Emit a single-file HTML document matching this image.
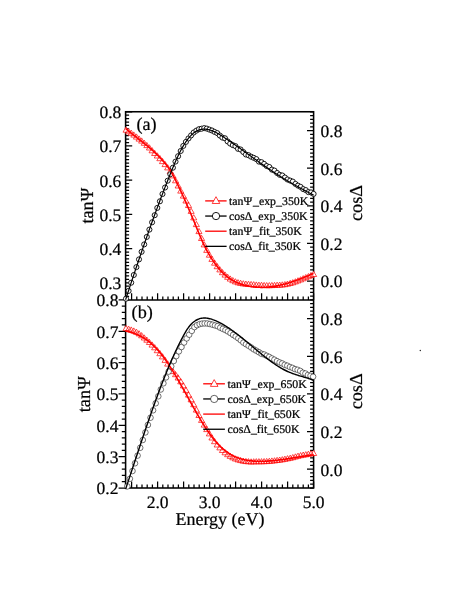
<!DOCTYPE html>
<html><head><meta charset="utf-8"><title>chart</title>
<style>html,body{margin:0;padding:0;background:#fff;}text{font-family:"Liberation Serif",serif;text-rendering:geometricPrecision;stroke:#000;stroke-width:0.22px;}body{width:457px;height:591px;position:relative;overflow:hidden;font-family:"Liberation Serif",serif;}</style></head>
<body>
<svg width="457" height="591" viewBox="0 0 457 591" style="position:absolute;left:0;top:0;will-change:transform">
<rect width="457" height="591" fill="#fff"/>
<rect x="125.6" y="111.75" width="188.00" height="376.25" fill="none" stroke="#000" stroke-width="1.55"/>
<line x1="125.60" y1="299.90" x2="313.60" y2="299.90" stroke="#000" stroke-width="1.55"/>
<path d="M126.40 299.90L126.40 296.40M131.60 299.90L131.60 293.30M136.80 299.90L136.80 296.40M142.00 299.90L142.00 296.40M147.20 299.90L147.20 296.40M152.40 299.90L152.40 296.40M157.60 299.90L157.60 293.30M162.80 299.90L162.80 296.40M168.00 299.90L168.00 296.40M173.20 299.90L173.20 296.40M178.40 299.90L178.40 296.40M183.60 299.90L183.60 293.30M188.80 299.90L188.80 296.40M194.00 299.90L194.00 296.40M199.20 299.90L199.20 296.40M204.40 299.90L204.40 296.40M209.60 299.90L209.60 293.30M214.80 299.90L214.80 296.40M220.00 299.90L220.00 296.40M225.20 299.90L225.20 296.40M230.40 299.90L230.40 296.40M235.60 299.90L235.60 293.30M240.80 299.90L240.80 296.40M246.00 299.90L246.00 296.40M251.20 299.90L251.20 296.40M256.40 299.90L256.40 296.40M261.60 299.90L261.60 293.30M266.80 299.90L266.80 296.40M272.00 299.90L272.00 296.40M277.20 299.90L277.20 296.40M282.40 299.90L282.40 296.40M287.60 299.90L287.60 293.30M292.80 299.90L292.80 296.40M298.00 299.90L298.00 296.40M303.20 299.90L303.20 296.40M308.40 299.90L308.40 296.40M313.60 299.90L313.60 293.30M126.40 488.00L126.40 484.50M131.60 488.00L131.60 481.40M136.80 488.00L136.80 484.50M142.00 488.00L142.00 484.50M147.20 488.00L147.20 484.50M152.40 488.00L152.40 484.50M157.60 488.00L157.60 481.40M162.80 488.00L162.80 484.50M168.00 488.00L168.00 484.50M173.20 488.00L173.20 484.50M178.40 488.00L178.40 484.50M183.60 488.00L183.60 481.40M188.80 488.00L188.80 484.50M194.00 488.00L194.00 484.50M199.20 488.00L199.20 484.50M204.40 488.00L204.40 484.50M209.60 488.00L209.60 481.40M214.80 488.00L214.80 484.50M220.00 488.00L220.00 484.50M225.20 488.00L225.20 484.50M230.40 488.00L230.40 484.50M235.60 488.00L235.60 481.40M240.80 488.00L240.80 484.50M246.00 488.00L246.00 484.50M251.20 488.00L251.20 484.50M256.40 488.00L256.40 484.50M261.60 488.00L261.60 481.40M266.80 488.00L266.80 484.50M272.00 488.00L272.00 484.50M277.20 488.00L277.20 484.50M282.40 488.00L282.40 484.50M287.60 488.00L287.60 481.40M292.80 488.00L292.80 484.50M298.00 488.00L298.00 484.50M303.20 488.00L303.20 484.50M308.40 488.00L308.40 484.50M313.60 488.00L313.60 481.40M125.60 299.90L129.10 299.90M125.60 296.48L129.10 296.48M125.60 293.06L129.10 293.06M125.60 289.64L129.10 289.64M125.60 286.22L129.10 286.22M125.60 282.80L132.20 282.80M125.60 279.37L129.10 279.37M125.60 275.95L129.10 275.95M125.60 272.53L129.10 272.53M125.60 269.11L129.10 269.11M125.60 265.69L129.10 265.69M125.60 262.27L129.10 262.27M125.60 258.85L129.10 258.85M125.60 255.43L129.10 255.43M125.60 252.01L129.10 252.01M125.60 248.59L132.20 248.59M125.60 245.17L129.10 245.17M125.60 241.74L129.10 241.74M125.60 238.32L129.10 238.32M125.60 234.90L129.10 234.90M125.60 231.48L129.10 231.48M125.60 228.06L129.10 228.06M125.60 224.64L129.10 224.64M125.60 221.22L129.10 221.22M125.60 217.80L129.10 217.80M125.60 214.38L132.20 214.38M125.60 210.96L129.10 210.96M125.60 207.54L129.10 207.54M125.60 204.11L129.10 204.11M125.60 200.69L129.10 200.69M125.60 197.27L129.10 197.27M125.60 193.85L129.10 193.85M125.60 190.43L129.10 190.43M125.60 187.01L129.10 187.01M125.60 183.59L129.10 183.59M125.60 180.17L132.20 180.17M125.60 176.75L129.10 176.75M125.60 173.33L129.10 173.33M125.60 169.91L129.10 169.91M125.60 166.48L129.10 166.48M125.60 163.06L129.10 163.06M125.60 159.64L129.10 159.64M125.60 156.22L129.10 156.22M125.60 152.80L129.10 152.80M125.60 149.38L129.10 149.38M125.60 145.96L132.20 145.96M125.60 142.54L129.10 142.54M125.60 139.12L129.10 139.12M125.60 135.70L129.10 135.70M125.60 132.28L129.10 132.28M125.60 128.85L129.10 128.85M125.60 125.43L129.10 125.43M125.60 122.01L129.10 122.01M125.60 118.59L129.10 118.59M125.60 115.17L129.10 115.17M125.60 111.75L132.20 111.75M125.60 488.00L118.60 488.00M125.60 481.73L121.80 481.73M125.60 475.46L121.80 475.46M125.60 469.19L121.80 469.19M125.60 462.92L121.80 462.92M125.60 456.65L118.60 456.65M125.60 450.38L121.80 450.38M125.60 444.11L121.80 444.11M125.60 437.84L121.80 437.84M125.60 431.57L121.80 431.57M125.60 425.30L118.60 425.30M125.60 419.03L121.80 419.03M125.60 412.76L121.80 412.76M125.60 406.49L121.80 406.49M125.60 400.22L121.80 400.22M125.60 393.95L118.60 393.95M125.60 387.68L121.80 387.68M125.60 381.41L121.80 381.41M125.60 375.14L121.80 375.14M125.60 368.87L121.80 368.87M125.60 362.60L118.60 362.60M125.60 356.33L121.80 356.33M125.60 350.06L121.80 350.06M125.60 343.79L121.80 343.79M125.60 337.52L121.80 337.52M125.60 331.25L118.60 331.25M125.60 324.98L121.80 324.98M125.60 318.71L121.80 318.71M125.60 312.44L121.80 312.44M125.60 306.17L121.80 306.17M125.60 299.90L118.60 299.90M313.60 299.90L310.10 299.90M313.60 296.14L310.10 296.14M313.60 292.37L310.10 292.37M313.60 288.61L310.10 288.61M313.60 284.85L310.10 284.85M313.60 281.08L307.00 281.08M313.60 277.32L310.10 277.32M313.60 273.56L310.10 273.56M313.60 269.80L310.10 269.80M313.60 266.03L310.10 266.03M313.60 262.27L310.10 262.27M313.60 258.51L310.10 258.51M313.60 254.74L310.10 254.74M313.60 250.98L310.10 250.98M313.60 247.22L310.10 247.22M313.60 243.45L307.00 243.45M313.60 239.69L310.10 239.69M313.60 235.93L310.10 235.93M313.60 232.17L310.10 232.17M313.60 228.40L310.10 228.40M313.60 224.64L310.10 224.64M313.60 220.88L310.10 220.88M313.60 217.11L310.10 217.11M313.60 213.35L310.10 213.35M313.60 209.59L310.10 209.59M313.60 205.82L307.00 205.82M313.60 202.06L310.10 202.06M313.60 198.30L310.10 198.30M313.60 194.54L310.10 194.54M313.60 190.77L310.10 190.77M313.60 187.01L310.10 187.01M313.60 183.25L310.10 183.25M313.60 179.48L310.10 179.48M313.60 175.72L310.10 175.72M313.60 171.96L310.10 171.96M313.60 168.19L307.00 168.19M313.60 164.43L310.10 164.43M313.60 160.67L310.10 160.67M313.60 156.91L310.10 156.91M313.60 153.14L310.10 153.14M313.60 149.38L310.10 149.38M313.60 145.62L310.10 145.62M313.60 141.85L310.10 141.85M313.60 138.09L310.10 138.09M313.60 134.33L310.10 134.33M313.60 130.56L307.00 130.56M313.60 126.80L310.10 126.80M313.60 123.04L310.10 123.04M313.60 119.28L310.10 119.28M313.60 115.51L310.10 115.51M313.60 111.75L310.10 111.75M313.60 488.00L310.10 488.00M313.60 484.24L310.10 484.24M313.60 480.48L310.10 480.48M313.60 476.71L310.10 476.71M313.60 472.95L310.10 472.95M313.60 469.19L307.00 469.19M313.60 465.43L310.10 465.43M313.60 461.67L310.10 461.67M313.60 457.90L310.10 457.90M313.60 454.14L310.10 454.14M313.60 450.38L310.10 450.38M313.60 446.62L310.10 446.62M313.60 442.86L310.10 442.86M313.60 439.09L310.10 439.09M313.60 435.33L310.10 435.33M313.60 431.57L307.00 431.57M313.60 427.81L310.10 427.81M313.60 424.05L310.10 424.05M313.60 420.28L310.10 420.28M313.60 416.52L310.10 416.52M313.60 412.76L310.10 412.76M313.60 409.00L310.10 409.00M313.60 405.24L310.10 405.24M313.60 401.47L310.10 401.47M313.60 397.71L310.10 397.71M313.60 393.95L307.00 393.95M313.60 390.19L310.10 390.19M313.60 386.43L310.10 386.43M313.60 382.66L310.10 382.66M313.60 378.90L310.10 378.90M313.60 375.14L310.10 375.14M313.60 371.38L310.10 371.38M313.60 367.62L310.10 367.62M313.60 363.85L310.10 363.85M313.60 360.09L310.10 360.09M313.60 356.33L307.00 356.33M313.60 352.57L310.10 352.57M313.60 348.81L310.10 348.81M313.60 345.04L310.10 345.04M313.60 341.28L310.10 341.28M313.60 337.52L310.10 337.52M313.60 333.76L310.10 333.76M313.60 330.00L310.10 330.00M313.60 326.23L310.10 326.23M313.60 322.47L310.10 322.47M313.60 318.71L307.00 318.71M313.60 314.95L310.10 314.95M313.60 311.19L310.10 311.19M313.60 307.42L310.10 307.42M313.60 303.66L310.10 303.66M313.60 299.90L310.10 299.90" stroke="#000" stroke-width="1.25" fill="none"/>
<path d="M126.0 127.0L129.1 132.2L123.0 132.2ZM128.6 128.6L131.7 133.8L125.6 133.8ZM131.2 130.1L134.3 135.3L128.2 135.3ZM133.8 131.9L136.9 137.1L130.8 137.1ZM136.4 133.9L139.5 139.1L133.4 139.1ZM139.0 135.9L142.1 141.1L136.0 141.1ZM141.6 137.9L144.7 143.1L138.6 143.1ZM144.2 140.1L147.3 145.3L141.2 145.3ZM146.8 142.4L149.9 147.6L143.8 147.6ZM149.4 144.8L152.5 150.0L146.4 150.0ZM152.1 147.6L155.1 152.8L149.0 152.8ZM154.7 150.3L157.7 155.5L151.6 155.5ZM157.3 152.8L160.3 158.0L154.2 158.0ZM159.9 155.5L162.9 160.7L156.8 160.7ZM162.5 158.4L165.5 163.6L159.4 163.6ZM165.1 161.4L168.1 166.6L162.0 166.6ZM167.7 164.7L170.7 169.9L164.6 169.9ZM170.3 168.3L173.3 173.5L167.2 173.5ZM172.9 172.7L176.0 177.9L169.8 177.9ZM175.5 177.6L178.6 182.8L172.5 182.8ZM178.1 182.8L181.2 188.0L175.1 188.0ZM180.7 187.9L183.8 193.1L177.7 193.1ZM183.3 192.9L186.4 198.1L180.3 198.1ZM185.9 197.8L189.0 203.0L182.9 203.0ZM188.5 202.3L191.6 207.5L185.5 207.5ZM191.1 208.2L194.2 213.4L188.1 213.4ZM193.7 214.7L196.8 219.9L190.7 219.9ZM196.4 221.4L199.4 226.6L193.3 226.6ZM199.0 228.4L202.0 233.6L195.9 233.6ZM201.6 235.3L204.6 240.5L198.5 240.5ZM204.2 241.7L207.2 246.9L201.1 246.9ZM206.8 247.2L209.8 252.4L203.7 252.4ZM209.4 252.0L212.4 257.2L206.3 257.2ZM212.0 256.2L215.0 261.4L208.9 261.4ZM214.6 260.0L217.6 265.2L211.5 265.2ZM217.2 263.5L220.2 268.7L214.1 268.7ZM219.8 266.7L222.9 271.9L216.8 271.9ZM222.4 269.5L225.5 274.7L219.4 274.7ZM225.0 271.9L228.1 277.1L222.0 277.1ZM227.6 274.1L230.7 279.3L224.6 279.3ZM230.2 275.9L233.3 281.1L227.2 281.1ZM232.8 277.5L235.9 282.7L229.8 282.7ZM235.4 278.7L238.5 283.9L232.4 283.9ZM238.0 279.6L241.1 284.8L235.0 284.8ZM240.6 280.2L243.7 285.4L237.6 285.4ZM243.3 280.7L246.3 285.9L240.2 285.9ZM245.9 281.0L248.9 286.2L242.8 286.2ZM248.5 281.2L251.5 286.4L245.4 286.4ZM251.1 281.4L254.1 286.6L248.0 286.6ZM253.7 281.6L256.7 286.8L250.6 286.8ZM256.3 281.9L259.3 287.1L253.2 287.1ZM258.9 282.1L261.9 287.3L255.8 287.3ZM261.5 282.2L264.5 287.4L258.4 287.4ZM264.1 282.4L267.1 287.6L261.0 287.6ZM266.7 282.5L269.8 287.7L263.7 287.7ZM269.3 282.5L272.4 287.7L266.3 287.7ZM271.9 282.4L275.0 287.6L268.9 287.6ZM274.5 282.3L277.6 287.5L271.5 287.5ZM277.1 282.1L280.2 287.3L274.1 287.3ZM279.7 282.0L282.8 287.2L276.7 287.2ZM282.3 281.8L285.4 287.0L279.3 287.0ZM284.9 281.5L288.0 286.7L281.9 286.7ZM287.5 281.0L290.6 286.2L284.5 286.2ZM290.2 280.3L293.2 285.5L287.1 285.5ZM292.8 279.6L295.8 284.8L289.7 284.8ZM295.4 278.7L298.4 283.9L292.3 283.9ZM298.0 277.7L301.0 282.9L294.9 282.9ZM300.6 276.7L303.6 281.9L297.5 281.9ZM303.2 275.6L306.2 280.8L300.1 280.8ZM305.8 274.5L308.8 279.7L302.7 279.7ZM308.4 273.5L311.4 278.7L305.3 278.7ZM311.0 272.4L314.0 277.6L307.9 277.6ZM313.6 271.3L316.7 276.5L310.6 276.5Z" stroke="#f00" stroke-width="0.7" fill="#fff" stroke-linejoin="miter"/>
<circle cx="126.0" cy="298.7" r="2.55" stroke="#000" stroke-width="0.9" fill="#fff"/>
<circle cx="128.6" cy="290.9" r="2.55" stroke="#000" stroke-width="0.9" fill="#fff"/>
<circle cx="131.2" cy="282.7" r="2.55" stroke="#000" stroke-width="0.9" fill="#fff"/>
<circle cx="133.8" cy="275.0" r="2.55" stroke="#000" stroke-width="0.9" fill="#fff"/>
<circle cx="136.4" cy="267.1" r="2.55" stroke="#000" stroke-width="0.9" fill="#fff"/>
<circle cx="139.0" cy="259.4" r="2.55" stroke="#000" stroke-width="0.9" fill="#fff"/>
<circle cx="141.6" cy="251.8" r="2.55" stroke="#000" stroke-width="0.9" fill="#fff"/>
<circle cx="144.2" cy="244.4" r="2.55" stroke="#000" stroke-width="0.9" fill="#fff"/>
<circle cx="146.8" cy="236.9" r="2.55" stroke="#000" stroke-width="0.9" fill="#fff"/>
<circle cx="149.4" cy="229.6" r="2.55" stroke="#000" stroke-width="0.9" fill="#fff"/>
<circle cx="152.1" cy="222.3" r="2.55" stroke="#000" stroke-width="0.9" fill="#fff"/>
<circle cx="154.7" cy="215.2" r="2.55" stroke="#000" stroke-width="0.9" fill="#fff"/>
<circle cx="157.3" cy="207.9" r="2.55" stroke="#000" stroke-width="0.9" fill="#fff"/>
<circle cx="159.9" cy="201.3" r="2.55" stroke="#000" stroke-width="0.9" fill="#fff"/>
<circle cx="162.5" cy="194.0" r="2.55" stroke="#000" stroke-width="0.9" fill="#fff"/>
<circle cx="165.1" cy="187.5" r="2.55" stroke="#000" stroke-width="0.9" fill="#fff"/>
<circle cx="167.7" cy="180.7" r="2.55" stroke="#000" stroke-width="0.9" fill="#fff"/>
<circle cx="170.3" cy="174.2" r="2.55" stroke="#000" stroke-width="0.9" fill="#fff"/>
<circle cx="172.9" cy="167.7" r="2.55" stroke="#000" stroke-width="0.9" fill="#fff"/>
<circle cx="175.5" cy="161.6" r="2.55" stroke="#000" stroke-width="0.9" fill="#fff"/>
<circle cx="178.1" cy="156.2" r="2.55" stroke="#000" stroke-width="0.9" fill="#fff"/>
<circle cx="180.7" cy="151.0" r="2.55" stroke="#000" stroke-width="0.9" fill="#fff"/>
<circle cx="183.3" cy="145.9" r="2.55" stroke="#000" stroke-width="0.9" fill="#fff"/>
<circle cx="185.9" cy="141.9" r="2.55" stroke="#000" stroke-width="0.9" fill="#fff"/>
<circle cx="188.5" cy="138.4" r="2.55" stroke="#000" stroke-width="0.9" fill="#fff"/>
<circle cx="191.1" cy="135.4" r="2.55" stroke="#000" stroke-width="0.9" fill="#fff"/>
<circle cx="193.7" cy="132.5" r="2.55" stroke="#000" stroke-width="0.9" fill="#fff"/>
<circle cx="196.4" cy="130.6" r="2.55" stroke="#000" stroke-width="0.9" fill="#fff"/>
<circle cx="199.0" cy="129.2" r="2.55" stroke="#000" stroke-width="0.9" fill="#fff"/>
<circle cx="201.6" cy="128.7" r="2.55" stroke="#000" stroke-width="0.9" fill="#fff"/>
<circle cx="204.2" cy="128.1" r="2.55" stroke="#000" stroke-width="0.9" fill="#fff"/>
<circle cx="206.8" cy="128.6" r="2.55" stroke="#000" stroke-width="0.9" fill="#fff"/>
<circle cx="209.4" cy="129.6" r="2.55" stroke="#000" stroke-width="0.9" fill="#fff"/>
<circle cx="212.0" cy="130.5" r="2.55" stroke="#000" stroke-width="0.9" fill="#fff"/>
<circle cx="214.6" cy="131.9" r="2.55" stroke="#000" stroke-width="0.9" fill="#fff"/>
<circle cx="217.2" cy="133.1" r="2.55" stroke="#000" stroke-width="0.9" fill="#fff"/>
<circle cx="219.8" cy="135.5" r="2.55" stroke="#000" stroke-width="0.9" fill="#fff"/>
<circle cx="222.4" cy="137.6" r="2.55" stroke="#000" stroke-width="0.9" fill="#fff"/>
<circle cx="225.0" cy="138.3" r="2.55" stroke="#000" stroke-width="0.9" fill="#fff"/>
<circle cx="227.6" cy="141.4" r="2.55" stroke="#000" stroke-width="0.9" fill="#fff"/>
<circle cx="230.2" cy="143.6" r="2.55" stroke="#000" stroke-width="0.9" fill="#fff"/>
<circle cx="232.8" cy="145.1" r="2.55" stroke="#000" stroke-width="0.9" fill="#fff"/>
<circle cx="235.4" cy="146.1" r="2.55" stroke="#000" stroke-width="0.9" fill="#fff"/>
<circle cx="238.0" cy="148.8" r="2.55" stroke="#000" stroke-width="0.9" fill="#fff"/>
<circle cx="240.6" cy="149.5" r="2.55" stroke="#000" stroke-width="0.9" fill="#fff"/>
<circle cx="243.3" cy="152.0" r="2.55" stroke="#000" stroke-width="0.9" fill="#fff"/>
<circle cx="245.9" cy="154.5" r="2.55" stroke="#000" stroke-width="0.9" fill="#fff"/>
<circle cx="248.5" cy="155.2" r="2.55" stroke="#000" stroke-width="0.9" fill="#fff"/>
<circle cx="251.1" cy="156.7" r="2.55" stroke="#000" stroke-width="0.9" fill="#fff"/>
<circle cx="253.7" cy="157.8" r="2.55" stroke="#000" stroke-width="0.9" fill="#fff"/>
<circle cx="256.3" cy="159.1" r="2.55" stroke="#000" stroke-width="0.9" fill="#fff"/>
<circle cx="258.9" cy="161.6" r="2.55" stroke="#000" stroke-width="0.9" fill="#fff"/>
<circle cx="261.5" cy="162.2" r="2.55" stroke="#000" stroke-width="0.9" fill="#fff"/>
<circle cx="264.1" cy="163.9" r="2.55" stroke="#000" stroke-width="0.9" fill="#fff"/>
<circle cx="266.7" cy="166.0" r="2.55" stroke="#000" stroke-width="0.9" fill="#fff"/>
<circle cx="269.3" cy="167.0" r="2.55" stroke="#000" stroke-width="0.9" fill="#fff"/>
<circle cx="271.9" cy="169.6" r="2.55" stroke="#000" stroke-width="0.9" fill="#fff"/>
<circle cx="274.5" cy="170.6" r="2.55" stroke="#000" stroke-width="0.9" fill="#fff"/>
<circle cx="277.1" cy="173.0" r="2.55" stroke="#000" stroke-width="0.9" fill="#fff"/>
<circle cx="279.7" cy="174.8" r="2.55" stroke="#000" stroke-width="0.9" fill="#fff"/>
<circle cx="282.3" cy="175.5" r="2.55" stroke="#000" stroke-width="0.9" fill="#fff"/>
<circle cx="284.9" cy="177.5" r="2.55" stroke="#000" stroke-width="0.9" fill="#fff"/>
<circle cx="287.5" cy="179.5" r="2.55" stroke="#000" stroke-width="0.9" fill="#fff"/>
<circle cx="290.2" cy="180.6" r="2.55" stroke="#000" stroke-width="0.9" fill="#fff"/>
<circle cx="292.8" cy="181.6" r="2.55" stroke="#000" stroke-width="0.9" fill="#fff"/>
<circle cx="295.4" cy="183.9" r="2.55" stroke="#000" stroke-width="0.9" fill="#fff"/>
<circle cx="298.0" cy="185.6" r="2.55" stroke="#000" stroke-width="0.9" fill="#fff"/>
<circle cx="300.6" cy="186.9" r="2.55" stroke="#000" stroke-width="0.9" fill="#fff"/>
<circle cx="303.2" cy="189.1" r="2.55" stroke="#000" stroke-width="0.9" fill="#fff"/>
<circle cx="305.8" cy="190.1" r="2.55" stroke="#000" stroke-width="0.9" fill="#fff"/>
<circle cx="308.4" cy="192.1" r="2.55" stroke="#000" stroke-width="0.9" fill="#fff"/>
<circle cx="311.0" cy="192.4" r="2.55" stroke="#000" stroke-width="0.9" fill="#fff"/>
<circle cx="313.6" cy="193.9" r="2.55" stroke="#000" stroke-width="0.9" fill="#fff"/>
<path d="M125.6 128.5L126.6 129.3L127.6 130.2L128.6 131.1L129.6 131.9L130.6 132.7L131.6 133.5L132.6 134.4L133.6 135.2L134.6 135.9L135.6 136.7L136.6 137.5L137.6 138.3L138.6 139.1L139.6 139.9L140.6 140.6L141.6 141.4L142.6 142.2L143.6 143.0L144.6 143.8L145.6 144.6L146.6 145.4L147.6 146.2L148.6 147.0L149.6 147.9L150.6 148.7L151.6 149.6L152.6 150.5L153.6 151.4L154.6 152.3L155.6 153.3L156.6 154.2L157.6 155.2L158.6 156.2L159.6 157.3L160.6 158.3L161.6 159.4L162.6 160.5L163.6 161.7L164.6 162.8L165.6 164.1L166.6 165.3L167.6 166.6L168.6 168.0L169.6 169.5L170.6 171.0L171.6 172.7L172.6 174.5L173.6 176.3L174.6 178.3L175.6 180.3L176.6 182.3L177.6 184.4L178.6 186.5L179.6 188.6L180.6 190.7L181.6 192.9L182.6 195.0L183.6 197.3L184.6 199.5L185.6 201.7L186.6 204.0L187.6 206.3L188.6 208.6L189.6 211.0L190.6 213.3L191.6 215.7L192.6 218.0L193.6 220.4L194.6 222.8L195.6 225.2L196.6 227.7L197.6 230.1L198.6 232.5L199.6 234.9L200.6 237.3L201.6 239.6L202.6 241.9L203.6 244.1L204.6 246.2L205.6 248.2L206.6 250.1L207.6 251.9L208.6 253.7L209.6 255.4L210.6 257.0L211.6 258.6L212.6 260.1L213.6 261.6L214.6 263.1L215.6 264.4L216.6 265.8L217.6 267.1L218.6 268.3L219.6 269.5L220.6 270.6L221.6 271.7L222.6 272.7L223.6 273.6L224.6 274.6L225.6 275.4L226.6 276.3L227.6 277.1L228.6 277.8L229.6 278.5L230.6 279.2L231.6 279.8L232.6 280.4L233.6 280.9L234.6 281.4L235.6 281.9L236.6 282.4L237.6 282.8L238.6 283.2L239.6 283.6L240.6 284.0L241.6 284.3L242.6 284.6L243.6 284.9L244.6 285.2L245.6 285.4L246.6 285.7L247.6 285.9L248.6 286.1L249.6 286.3L250.6 286.5L251.6 286.6L252.6 286.8L253.6 286.9L254.6 287.0L255.6 287.1L256.6 287.2L257.6 287.3L258.6 287.3L259.6 287.3L260.6 287.4L261.6 287.4L262.6 287.4L263.6 287.3L264.6 287.3L265.6 287.3L266.6 287.2L267.6 287.1L268.6 287.0L269.6 286.9L270.6 286.8L271.6 286.7L272.6 286.5L273.6 286.4L274.6 286.2L275.6 286.1L276.6 285.9L277.6 285.7L278.6 285.5L279.6 285.3L280.6 285.0L281.6 284.8L282.6 284.6L283.6 284.3L284.6 284.1L285.6 283.8L286.6 283.5L287.6 283.2L288.6 282.9L289.6 282.6L290.6 282.3L291.6 282.0L292.6 281.6L293.6 281.3L294.6 281.0L295.6 280.6L296.6 280.3L297.6 279.9L298.6 279.5L299.6 279.2L300.6 278.8L301.6 278.4L302.6 278.0L303.6 277.6L304.6 277.2L305.6 276.8L306.6 276.4L307.6 276.0L308.6 275.6L309.6 275.1L310.6 274.7L311.6 274.3L312.6 273.8L313.6 273.4" stroke="#f00" stroke-width="1.6" fill="none" stroke-linejoin="round"/>
<path d="M125.6 299.7L126.6 296.6L127.6 293.6L128.6 290.5L129.6 287.5L130.6 284.4L131.6 281.4L132.6 278.4L133.6 275.4L134.6 272.4L135.6 269.4L136.6 266.5L137.6 263.5L138.6 260.5L139.6 257.6L140.6 254.7L141.6 251.8L142.6 248.9L143.6 246.0L144.6 243.1L145.6 240.2L146.6 237.4L147.6 234.5L148.6 231.7L149.6 228.9L150.6 226.1L151.6 223.3L152.6 220.5L153.6 217.7L154.6 215.0L155.6 212.3L156.6 209.6L157.6 206.9L158.6 204.2L159.6 201.5L160.6 198.8L161.6 196.2L162.6 193.6L163.6 191.0L164.6 188.4L165.6 185.8L166.6 183.2L167.6 180.7L168.6 178.2L169.6 175.7L170.6 173.2L171.6 170.7L172.6 168.3L173.6 165.9L174.6 163.6L175.6 161.3L176.6 159.1L177.6 156.9L178.6 154.8L179.6 152.8L180.6 150.8L181.6 148.9L182.6 147.1L183.6 145.4L184.6 143.8L185.6 142.2L186.6 140.8L187.6 139.4L188.6 138.1L189.6 136.9L190.6 135.8L191.6 134.8L192.6 133.9L193.6 133.0L194.6 132.3L195.6 131.6L196.6 131.1L197.6 130.6L198.6 130.1L199.6 129.8L200.6 129.5L201.6 129.3L202.6 129.2L203.6 129.1L204.6 129.1L205.6 129.2L206.6 129.3L207.6 129.4L208.6 129.7L209.6 129.9L210.6 130.2L211.6 130.6L212.6 130.9L213.6 131.4L214.6 131.8L215.6 132.3L216.6 132.8L217.6 133.4L218.6 134.0L219.6 134.6L220.6 135.2L221.6 135.8L222.6 136.4L223.6 137.1L224.6 137.8L225.6 138.4L226.6 139.1L227.6 139.8L228.6 140.4L229.6 141.1L230.6 141.8L231.6 142.5L232.6 143.2L233.6 143.9L234.6 144.6L235.6 145.3L236.6 146.0L237.6 146.7L238.6 147.4L239.6 148.1L240.6 148.8L241.6 149.6L242.6 150.3L243.6 151.0L244.6 151.7L245.6 152.4L246.6 153.1L247.6 153.9L248.6 154.6L249.6 155.3L250.6 156.0L251.6 156.7L252.6 157.5L253.6 158.2L254.6 158.9L255.6 159.6L256.6 160.3L257.6 161.0L258.6 161.7L259.6 162.5L260.6 163.2L261.6 163.9L262.6 164.6L263.6 165.3L264.6 166.0L265.6 166.7L266.6 167.4L267.6 168.0L268.6 168.7L269.6 169.4L270.6 170.1L271.6 170.8L272.6 171.4L273.6 172.1L274.6 172.8L275.6 173.4L276.6 174.1L277.6 174.7L278.6 175.3L279.6 176.0L280.6 176.6L281.6 177.2L282.6 177.8L283.6 178.5L284.6 179.1L285.6 179.7L286.6 180.3L287.6 180.9L288.6 181.5L289.6 182.0L290.6 182.6L291.6 183.2L292.6 183.8L293.6 184.3L294.6 184.9L295.6 185.5L296.6 186.0L297.6 186.6L298.6 187.1L299.6 187.7L300.6 188.2L301.6 188.8L302.6 189.3L303.6 189.9L304.6 190.4L305.6 190.9L306.6 191.5L307.6 192.0L308.6 192.5L309.6 193.0L310.6 193.5L311.6 194.1L312.6 194.6L313.6 195.1" stroke="#000" stroke-width="1.2" fill="none" stroke-linejoin="round"/>
<path d="M126.0 325.4L129.1 330.6L123.0 330.6ZM128.6 326.1L131.7 331.3L125.6 331.3ZM131.2 326.9L134.3 332.1L128.2 332.1ZM133.8 327.9L136.9 333.1L130.8 333.1ZM136.4 329.1L139.5 334.3L133.4 334.3ZM139.0 330.7L142.1 335.9L136.0 335.9ZM141.6 332.6L144.7 337.8L138.6 337.8ZM144.2 334.8L147.3 340.0L141.2 340.0ZM146.8 337.0L149.9 342.2L143.8 342.2ZM149.4 339.3L152.5 344.5L146.4 344.5ZM152.1 341.9L155.1 347.1L149.0 347.1ZM154.7 344.6L157.7 349.8L151.6 349.8ZM157.3 347.5L160.3 352.7L154.2 352.7ZM159.9 350.5L162.9 355.7L156.8 355.7ZM162.5 353.7L165.5 358.9L159.4 358.9ZM165.1 357.2L168.1 362.4L162.0 362.4ZM167.7 360.9L170.7 366.1L164.6 366.1ZM170.3 364.6L173.3 369.8L167.2 369.8ZM172.9 368.4L176.0 373.6L169.8 373.6ZM175.5 371.5L178.6 376.7L172.5 376.7ZM178.1 374.8L181.2 380.0L175.1 380.0ZM180.7 378.6L183.8 383.8L177.7 383.8ZM183.3 382.7L186.4 387.9L180.3 387.9ZM185.9 387.2L189.0 392.4L182.9 392.4ZM188.5 391.9L191.6 397.1L185.5 397.1ZM191.1 396.6L194.2 401.8L188.1 401.8ZM193.7 401.5L196.8 406.7L190.7 406.7ZM196.4 406.9L199.4 412.1L193.3 412.1ZM199.0 412.3L202.0 417.5L195.9 417.5ZM201.6 417.2L204.6 422.4L198.5 422.4ZM204.2 421.9L207.2 427.1L201.1 427.1ZM206.8 426.4L209.8 431.6L203.7 431.6ZM209.4 430.7L212.4 435.9L206.3 435.9ZM212.0 434.8L215.0 440.0L208.9 440.0ZM214.6 438.5L217.6 443.7L211.5 443.7ZM217.2 441.8L220.2 447.0L214.1 447.0ZM219.8 444.7L222.9 449.9L216.8 449.9ZM222.4 447.3L225.5 452.5L219.4 452.5ZM225.0 449.6L228.1 454.8L222.0 454.8ZM227.6 451.5L230.7 456.7L224.6 456.7ZM230.2 453.2L233.3 458.4L227.2 458.4ZM232.8 454.6L235.9 459.8L229.8 459.8ZM235.4 455.8L238.5 461.0L232.4 461.0ZM238.0 456.7L241.1 461.9L235.0 461.9ZM240.6 457.4L243.7 462.6L237.6 462.6ZM243.3 458.0L246.3 463.2L240.2 463.2ZM245.9 458.4L248.9 463.6L242.8 463.6ZM248.5 458.6L251.5 463.8L245.4 463.8ZM251.1 458.8L254.1 464.0L248.0 464.0ZM253.7 458.7L256.7 463.9L250.6 463.9ZM256.3 458.6L259.3 463.8L253.2 463.8ZM258.9 458.6L261.9 463.8L255.8 463.8ZM261.5 458.6L264.5 463.8L258.4 463.8ZM264.1 458.5L267.1 463.7L261.0 463.7ZM266.7 458.4L269.8 463.6L263.7 463.6ZM269.3 458.2L272.4 463.4L266.3 463.4ZM271.9 457.9L275.0 463.1L268.9 463.1ZM274.5 457.7L277.6 462.9L271.5 462.9ZM277.1 457.3L280.2 462.5L274.1 462.5ZM279.7 457.0L282.8 462.2L276.7 462.2ZM282.3 456.6L285.4 461.8L279.3 461.8ZM284.9 456.1L288.0 461.3L281.9 461.3ZM287.5 455.6L290.6 460.8L284.5 460.8ZM290.2 455.1L293.2 460.3L287.1 460.3ZM292.8 454.5L295.8 459.7L289.7 459.7ZM295.4 453.8L298.4 459.0L292.3 459.0ZM298.0 453.1L301.0 458.3L294.9 458.3ZM300.6 452.5L303.6 457.7L297.5 457.7ZM303.2 452.0L306.2 457.2L300.1 457.2ZM305.8 451.6L308.8 456.8L302.7 456.8ZM308.4 451.1L311.4 456.3L305.3 456.3ZM311.0 450.7L314.0 455.9L307.9 455.9ZM313.6 450.3L316.7 455.5L310.6 455.5Z" stroke="#f00" stroke-width="0.7" fill="#fff" stroke-linejoin="miter"/>
<circle cx="127.3" cy="486.4" r="2.8" stroke="#000" stroke-width="0.55" fill="#fff"/>
<circle cx="129.9" cy="478.8" r="2.8" stroke="#000" stroke-width="0.55" fill="#fff"/>
<circle cx="132.5" cy="471.0" r="2.8" stroke="#000" stroke-width="0.55" fill="#fff"/>
<circle cx="135.0" cy="463.3" r="2.8" stroke="#000" stroke-width="0.55" fill="#fff"/>
<circle cx="137.6" cy="455.6" r="2.8" stroke="#000" stroke-width="0.55" fill="#fff"/>
<circle cx="140.2" cy="447.8" r="2.8" stroke="#000" stroke-width="0.55" fill="#fff"/>
<circle cx="142.8" cy="440.0" r="2.8" stroke="#000" stroke-width="0.55" fill="#fff"/>
<circle cx="145.4" cy="432.4" r="2.8" stroke="#000" stroke-width="0.55" fill="#fff"/>
<circle cx="147.9" cy="424.9" r="2.8" stroke="#000" stroke-width="0.55" fill="#fff"/>
<circle cx="150.5" cy="417.7" r="2.8" stroke="#000" stroke-width="0.55" fill="#fff"/>
<circle cx="153.1" cy="410.3" r="2.8" stroke="#000" stroke-width="0.55" fill="#fff"/>
<circle cx="155.7" cy="403.3" r="2.8" stroke="#000" stroke-width="0.55" fill="#fff"/>
<circle cx="158.3" cy="396.3" r="2.8" stroke="#000" stroke-width="0.55" fill="#fff"/>
<circle cx="160.8" cy="389.5" r="2.8" stroke="#000" stroke-width="0.55" fill="#fff"/>
<circle cx="163.4" cy="383.3" r="2.8" stroke="#000" stroke-width="0.55" fill="#fff"/>
<circle cx="166.0" cy="377.4" r="2.8" stroke="#000" stroke-width="0.55" fill="#fff"/>
<circle cx="168.6" cy="371.6" r="2.8" stroke="#000" stroke-width="0.55" fill="#fff"/>
<circle cx="171.2" cy="366.3" r="2.8" stroke="#000" stroke-width="0.55" fill="#fff"/>
<circle cx="173.8" cy="361.0" r="2.8" stroke="#000" stroke-width="0.55" fill="#fff"/>
<circle cx="176.3" cy="356.1" r="2.8" stroke="#000" stroke-width="0.55" fill="#fff"/>
<circle cx="178.9" cy="351.4" r="2.8" stroke="#000" stroke-width="0.55" fill="#fff"/>
<circle cx="181.5" cy="347.0" r="2.8" stroke="#000" stroke-width="0.55" fill="#fff"/>
<circle cx="184.1" cy="342.5" r="2.8" stroke="#000" stroke-width="0.55" fill="#fff"/>
<circle cx="186.7" cy="338.4" r="2.8" stroke="#000" stroke-width="0.55" fill="#fff"/>
<circle cx="189.2" cy="334.7" r="2.8" stroke="#000" stroke-width="0.55" fill="#fff"/>
<circle cx="191.8" cy="330.9" r="2.8" stroke="#000" stroke-width="0.55" fill="#fff"/>
<circle cx="194.4" cy="327.1" r="2.8" stroke="#000" stroke-width="0.55" fill="#fff"/>
<circle cx="197.0" cy="325.2" r="2.8" stroke="#000" stroke-width="0.55" fill="#fff"/>
<circle cx="199.6" cy="324.1" r="2.8" stroke="#000" stroke-width="0.55" fill="#fff"/>
<circle cx="202.1" cy="323.6" r="2.8" stroke="#000" stroke-width="0.55" fill="#fff"/>
<circle cx="204.7" cy="323.4" r="2.8" stroke="#000" stroke-width="0.55" fill="#fff"/>
<circle cx="207.3" cy="323.5" r="2.8" stroke="#000" stroke-width="0.55" fill="#fff"/>
<circle cx="209.9" cy="324.0" r="2.8" stroke="#000" stroke-width="0.55" fill="#fff"/>
<circle cx="212.5" cy="324.7" r="2.8" stroke="#000" stroke-width="0.55" fill="#fff"/>
<circle cx="215.0" cy="325.4" r="2.8" stroke="#000" stroke-width="0.55" fill="#fff"/>
<circle cx="217.6" cy="326.2" r="2.8" stroke="#000" stroke-width="0.55" fill="#fff"/>
<circle cx="220.2" cy="327.7" r="2.8" stroke="#000" stroke-width="0.55" fill="#fff"/>
<circle cx="222.8" cy="328.9" r="2.8" stroke="#000" stroke-width="0.55" fill="#fff"/>
<circle cx="225.4" cy="330.1" r="2.8" stroke="#000" stroke-width="0.55" fill="#fff"/>
<circle cx="227.9" cy="331.4" r="2.8" stroke="#000" stroke-width="0.55" fill="#fff"/>
<circle cx="230.5" cy="333.1" r="2.8" stroke="#000" stroke-width="0.55" fill="#fff"/>
<circle cx="233.1" cy="334.9" r="2.8" stroke="#000" stroke-width="0.55" fill="#fff"/>
<circle cx="235.7" cy="336.5" r="2.8" stroke="#000" stroke-width="0.55" fill="#fff"/>
<circle cx="238.3" cy="338.3" r="2.8" stroke="#000" stroke-width="0.55" fill="#fff"/>
<circle cx="240.8" cy="340.3" r="2.8" stroke="#000" stroke-width="0.55" fill="#fff"/>
<circle cx="243.4" cy="342.6" r="2.8" stroke="#000" stroke-width="0.55" fill="#fff"/>
<circle cx="246.0" cy="344.2" r="2.8" stroke="#000" stroke-width="0.55" fill="#fff"/>
<circle cx="248.6" cy="345.8" r="2.8" stroke="#000" stroke-width="0.55" fill="#fff"/>
<circle cx="251.2" cy="347.5" r="2.8" stroke="#000" stroke-width="0.55" fill="#fff"/>
<circle cx="253.7" cy="349.3" r="2.8" stroke="#000" stroke-width="0.55" fill="#fff"/>
<circle cx="256.3" cy="350.7" r="2.8" stroke="#000" stroke-width="0.55" fill="#fff"/>
<circle cx="258.9" cy="352.2" r="2.8" stroke="#000" stroke-width="0.55" fill="#fff"/>
<circle cx="261.5" cy="353.8" r="2.8" stroke="#000" stroke-width="0.55" fill="#fff"/>
<circle cx="264.1" cy="354.5" r="2.8" stroke="#000" stroke-width="0.55" fill="#fff"/>
<circle cx="266.7" cy="355.8" r="2.8" stroke="#000" stroke-width="0.55" fill="#fff"/>
<circle cx="269.2" cy="356.9" r="2.8" stroke="#000" stroke-width="0.55" fill="#fff"/>
<circle cx="271.8" cy="358.4" r="2.8" stroke="#000" stroke-width="0.55" fill="#fff"/>
<circle cx="274.4" cy="359.7" r="2.8" stroke="#000" stroke-width="0.55" fill="#fff"/>
<circle cx="277.0" cy="361.1" r="2.8" stroke="#000" stroke-width="0.55" fill="#fff"/>
<circle cx="279.6" cy="362.4" r="2.8" stroke="#000" stroke-width="0.55" fill="#fff"/>
<circle cx="282.1" cy="363.4" r="2.8" stroke="#000" stroke-width="0.55" fill="#fff"/>
<circle cx="284.7" cy="364.8" r="2.8" stroke="#000" stroke-width="0.55" fill="#fff"/>
<circle cx="287.3" cy="365.7" r="2.8" stroke="#000" stroke-width="0.55" fill="#fff"/>
<circle cx="289.9" cy="367.0" r="2.8" stroke="#000" stroke-width="0.55" fill="#fff"/>
<circle cx="292.5" cy="367.9" r="2.8" stroke="#000" stroke-width="0.55" fill="#fff"/>
<circle cx="295.0" cy="369.1" r="2.8" stroke="#000" stroke-width="0.55" fill="#fff"/>
<circle cx="297.6" cy="369.8" r="2.8" stroke="#000" stroke-width="0.55" fill="#fff"/>
<circle cx="300.2" cy="370.9" r="2.8" stroke="#000" stroke-width="0.55" fill="#fff"/>
<circle cx="302.8" cy="372.7" r="2.8" stroke="#000" stroke-width="0.55" fill="#fff"/>
<circle cx="305.4" cy="373.5" r="2.8" stroke="#000" stroke-width="0.55" fill="#fff"/>
<circle cx="307.9" cy="375.0" r="2.8" stroke="#000" stroke-width="0.55" fill="#fff"/>
<circle cx="310.5" cy="375.8" r="2.8" stroke="#000" stroke-width="0.55" fill="#fff"/>
<circle cx="313.1" cy="376.7" r="2.8" stroke="#000" stroke-width="0.55" fill="#fff"/>
<path d="M125.6 330.9L126.6 331.2L127.6 331.4L128.6 331.6L129.6 331.9L130.6 332.2L131.6 332.5L132.6 332.8L133.6 333.2L134.6 333.5L135.6 333.9L136.6 334.4L137.6 334.8L138.6 335.3L139.6 335.7L140.6 336.3L141.6 336.8L142.6 337.4L143.6 338.0L144.6 338.6L145.6 339.3L146.6 339.9L147.6 340.7L148.6 341.4L149.6 342.2L150.6 343.0L151.6 343.9L152.6 344.8L153.6 345.7L154.6 346.7L155.6 347.7L156.6 348.8L157.6 349.9L158.6 351.0L159.6 352.2L160.6 353.4L161.6 354.6L162.6 355.9L163.6 357.3L164.6 358.6L165.6 360.0L166.6 361.5L167.6 362.9L168.6 364.4L169.6 366.0L170.6 367.5L171.6 369.1L172.6 370.7L173.6 372.3L174.6 374.0L175.6 375.6L176.6 377.3L177.6 379.1L178.6 380.8L179.6 382.5L180.6 384.3L181.6 386.1L182.6 387.8L183.6 389.6L184.6 391.4L185.6 393.2L186.6 395.0L187.6 396.8L188.6 398.7L189.6 400.5L190.6 402.3L191.6 404.1L192.6 405.9L193.6 407.7L194.6 409.4L195.6 411.2L196.6 413.0L197.6 414.7L198.6 416.4L199.6 418.1L200.6 419.8L201.6 421.5L202.6 423.1L203.6 424.7L204.6 426.3L205.6 427.9L206.6 429.4L207.6 430.9L208.6 432.3L209.6 433.8L210.6 435.2L211.6 436.5L212.6 437.8L213.6 439.1L214.6 440.3L215.6 441.5L216.6 442.6L217.6 443.7L218.6 444.8L219.6 445.8L220.6 446.8L221.6 447.7L222.6 448.6L223.6 449.4L224.6 450.2L225.6 451.0L226.6 451.7L227.6 452.4L228.6 453.1L229.6 453.7L230.6 454.4L231.6 454.9L232.6 455.5L233.6 456.0L234.6 456.4L235.6 456.9L236.6 457.3L237.6 457.7L238.6 458.1L239.6 458.4L240.6 458.8L241.6 459.1L242.6 459.3L243.6 459.6L244.6 459.8L245.6 460.0L246.6 460.2L247.6 460.4L248.6 460.5L249.6 460.7L250.6 460.8L251.6 460.9L252.6 461.0L253.6 461.1L254.6 461.1L255.6 461.2L256.6 461.2L257.6 461.3L258.6 461.3L259.6 461.3L260.6 461.3L261.6 461.3L262.6 461.3L263.6 461.2L264.6 461.2L265.6 461.2L266.6 461.1L267.6 461.1L268.6 461.0L269.6 460.9L270.6 460.9L271.6 460.8L272.6 460.7L273.6 460.6L274.6 460.5L275.6 460.4L276.6 460.3L277.6 460.2L278.6 460.0L279.6 459.9L280.6 459.8L281.6 459.6L282.6 459.5L283.6 459.4L284.6 459.2L285.6 459.1L286.6 458.9L287.6 458.8L288.6 458.6L289.6 458.5L290.6 458.3L291.6 458.1L292.6 458.0L293.6 457.8L294.6 457.6L295.6 457.5L296.6 457.3L297.6 457.2L298.6 457.0L299.6 456.8L300.6 456.7L301.6 456.5L302.6 456.3L303.6 456.2L304.6 456.0L305.6 455.9L306.6 455.7L307.6 455.6L308.6 455.4L309.6 455.3L310.6 455.1L311.6 455.0L312.6 454.9L313.6 454.7" stroke="#f00" stroke-width="1.6" fill="none" stroke-linejoin="round"/>
<path d="M125.6 489.1L126.6 486.1L127.6 483.1L128.6 480.1L129.6 477.1L130.6 474.1L131.6 471.1L132.6 468.0L133.6 465.0L134.6 462.0L135.6 459.0L136.6 456.0L137.6 453.0L138.6 450.0L139.6 447.0L140.6 444.0L141.6 441.0L142.6 438.0L143.6 435.0L144.6 432.1L145.6 429.1L146.6 426.2L147.6 423.3L148.6 420.4L149.6 417.5L150.6 414.7L151.6 411.8L152.6 409.0L153.6 406.2L154.6 403.4L155.6 400.6L156.6 397.9L157.6 395.2L158.6 392.5L159.6 389.8L160.6 387.1L161.6 384.5L162.6 381.9L163.6 379.4L164.6 376.9L165.6 374.4L166.6 371.9L167.6 369.5L168.6 367.1L169.6 364.7L170.6 362.4L171.6 360.1L172.6 357.9L173.6 355.7L174.6 353.5L175.6 351.3L176.6 349.2L177.6 347.1L178.6 345.1L179.6 343.1L180.6 341.1L181.6 339.2L182.6 337.3L183.6 335.4L184.6 333.6L185.6 331.9L186.6 330.2L187.6 328.7L188.6 327.3L189.6 326.0L190.6 324.8L191.6 323.7L192.6 322.8L193.6 322.0L194.6 321.2L195.6 320.5L196.6 320.0L197.6 319.5L198.6 319.1L199.6 318.7L200.6 318.4L201.6 318.2L202.6 318.1L203.6 318.0L204.6 318.0L205.6 318.0L206.6 318.1L207.6 318.3L208.6 318.5L209.6 318.7L210.6 318.9L211.6 319.2L212.6 319.6L213.6 319.9L214.6 320.3L215.6 320.7L216.6 321.2L217.6 321.6L218.6 322.1L219.6 322.6L220.6 323.1L221.6 323.7L222.6 324.2L223.6 324.8L224.6 325.4L225.6 326.0L226.6 326.6L227.6 327.3L228.6 327.9L229.6 328.6L230.6 329.3L231.6 330.0L232.6 330.7L233.6 331.4L234.6 332.2L235.6 332.9L236.6 333.7L237.6 334.4L238.6 335.2L239.6 336.0L240.6 336.8L241.6 337.6L242.6 338.4L243.6 339.2L244.6 340.0L245.6 340.8L246.6 341.7L247.6 342.5L248.6 343.3L249.6 344.2L250.6 345.0L251.6 345.8L252.6 346.7L253.6 347.5L254.6 348.4L255.6 349.2L256.6 350.0L257.6 350.9L258.6 351.7L259.6 352.5L260.6 353.3L261.6 354.2L262.6 355.0L263.6 355.8L264.6 356.6L265.6 357.3L266.6 358.1L267.6 358.9L268.6 359.7L269.6 360.4L270.6 361.1L271.6 361.9L272.6 362.6L273.6 363.3L274.6 364.0L275.6 364.7L276.6 365.3L277.6 366.0L278.6 366.6L279.6 367.2L280.6 367.8L281.6 368.4L282.6 369.0L283.6 369.5L284.6 370.0L285.6 370.5L286.6 371.0L287.6 371.5L288.6 371.9L289.6 372.3L290.6 372.7L291.6 373.1L292.6 373.5L293.6 373.8L294.6 374.2L295.6 374.5L296.6 374.8L297.6 375.1L298.6 375.5L299.6 375.8L300.6 376.1L301.6 376.4L302.6 376.7L303.6 377.0L304.6 377.3L305.6 377.6L306.6 377.9L307.6 378.2L308.6 378.5L309.6 378.9L310.6 379.2L311.6 379.6L312.6 380.0L313.6 380.4" stroke="#000" stroke-width="1.4" fill="none" stroke-linejoin="round"/>
<text x="121.3" y="118.0" font-size="17.5" text-anchor="end" fill="#000" >0.8</text>
<text x="121.3" y="152.3" font-size="17.5" text-anchor="end" fill="#000" >0.7</text>
<text x="121.3" y="186.5" font-size="17.5" text-anchor="end" fill="#000" >0.6</text>
<text x="121.3" y="220.7" font-size="17.5" text-anchor="end" fill="#000" >0.5</text>
<text x="121.3" y="254.9" font-size="17.5" text-anchor="end" fill="#000" >0.4</text>
<text x="121.3" y="289.1" font-size="17.5" text-anchor="end" fill="#000" >0.3</text>
<text x="118.4" y="306.2" font-size="17.5" text-anchor="end" fill="#000" >0.8</text>
<text x="118.4" y="337.6" font-size="17.5" text-anchor="end" fill="#000" >0.7</text>
<text x="118.4" y="368.9" font-size="17.5" text-anchor="end" fill="#000" >0.6</text>
<text x="118.4" y="400.2" font-size="17.5" text-anchor="end" fill="#000" >0.5</text>
<text x="118.4" y="431.6" font-size="17.5" text-anchor="end" fill="#000" >0.4</text>
<text x="118.4" y="462.9" font-size="17.5" text-anchor="end" fill="#000" >0.3</text>
<text x="118.4" y="494.3" font-size="17.5" text-anchor="end" fill="#000" >0.2</text>
<text x="320.5" y="136.9" font-size="17.5" text-anchor="start" fill="#000" >0.8</text>
<text x="320.5" y="174.5" font-size="17.5" text-anchor="start" fill="#000" >0.6</text>
<text x="320.5" y="212.1" font-size="17.5" text-anchor="start" fill="#000" >0.4</text>
<text x="320.5" y="249.8" font-size="17.5" text-anchor="start" fill="#000" >0.2</text>
<text x="320.5" y="287.4" font-size="17.5" text-anchor="start" fill="#000" >0.0</text>
<text x="320.5" y="325.0" font-size="17.5" text-anchor="start" fill="#000" >0.8</text>
<text x="320.5" y="362.6" font-size="17.5" text-anchor="start" fill="#000" >0.6</text>
<text x="320.5" y="400.2" font-size="17.5" text-anchor="start" fill="#000" >0.4</text>
<text x="320.5" y="437.9" font-size="17.5" text-anchor="start" fill="#000" >0.2</text>
<text x="320.5" y="475.5" font-size="17.5" text-anchor="start" fill="#000" >0.0</text>
<text x="157.6" y="508.2" font-size="17.5" text-anchor="middle" fill="#000" >2.0</text>
<text x="209.6" y="508.2" font-size="17.5" text-anchor="middle" fill="#000" >3.0</text>
<text x="261.6" y="508.2" font-size="17.5" text-anchor="middle" fill="#000" >4.0</text>
<text x="313.6" y="508.2" font-size="17.5" text-anchor="middle" fill="#000" >5.0</text>
<text x="220.0" y="525.4" font-size="18" text-anchor="middle" fill="#000" >Energy (eV)</text>
<text transform="translate(93.1,205.7) rotate(-90)" font-size="18.3" text-anchor="middle">tanΨ</text>
<text transform="translate(89.9,394.3) rotate(-90)" font-size="18.3" text-anchor="middle">tanΨ</text>
<text transform="translate(362,203) rotate(-90)" font-size="18.2" text-anchor="middle">cosΔ</text>
<text transform="translate(362,391.4) rotate(-90)" font-size="18.2" text-anchor="middle">cosΔ</text>
<text x="136.4" y="129.9" font-size="18.2" text-anchor="start" fill="#000" >(a)</text>
<text x="131.6" y="318.3" font-size="18.2" text-anchor="start" fill="#000" >(b)</text>
<line x1="205.20" y1="200.90" x2="226.60" y2="200.90" stroke="#f00" stroke-width="1.3"/>
<path d="M216.0 196.7L219.8 203.5L212.2 203.5Z" stroke="#f00" stroke-width="0.75" fill="#fff"/>
<text x="229.0" y="204.8" font-size="11.85" text-anchor="start" fill="#000" >tanΨ<tspan dx="0.8">_exp_350K</tspan></text>
<line x1="205.20" y1="216.05" x2="226.60" y2="216.05" stroke="#000" stroke-width="1.3"/>
<circle cx="216" cy="216.05" r="3.65" stroke="#000" stroke-width="0.9" fill="#fff"/>
<text x="229.0" y="220.0" font-size="11.85" text-anchor="start" fill="#000" >cosΔ_exp_350K</text>
<line x1="205.20" y1="231.20" x2="226.60" y2="231.20" stroke="#f00" stroke-width="1.3"/>
<text x="229.0" y="235.1" font-size="11.85" text-anchor="start" fill="#000" >tanΨ<tspan dx="0.8">_fit_350K</tspan></text>
<line x1="205.20" y1="246.35" x2="226.60" y2="246.35" stroke="#000" stroke-width="1.3"/>
<text x="229.0" y="250.3" font-size="11.85" text-anchor="start" fill="#000" >cosΔ_fit_350K</text>
<line x1="203.20" y1="383.80" x2="224.90" y2="383.80" stroke="#f00" stroke-width="1.3"/>
<path d="M214.2 379.6L218.0 386.4L210.4 386.4Z" stroke="#f00" stroke-width="0.75" fill="#fff"/>
<text x="227.5" y="387.7" font-size="11.85" text-anchor="start" fill="#000" >tanΨ<tspan dx="0.8">_exp_650K</tspan></text>
<line x1="203.20" y1="398.95" x2="224.90" y2="398.95" stroke="#000" stroke-width="1.3"/>
<circle cx="214.2" cy="398.95" r="3.65" stroke="#000" stroke-width="0.6" fill="#fff"/>
<text x="227.5" y="402.8" font-size="11.85" text-anchor="start" fill="#000" >cosΔ_exp_650K</text>
<line x1="203.20" y1="414.10" x2="224.90" y2="414.10" stroke="#f00" stroke-width="1.3"/>
<text x="227.5" y="418.0" font-size="11.85" text-anchor="start" fill="#000" >tanΨ<tspan dx="0.8">_fit_650K</tspan></text>
<line x1="203.20" y1="429.25" x2="224.90" y2="429.25" stroke="#000" stroke-width="1.3"/>
<text x="227.5" y="433.1" font-size="11.85" text-anchor="start" fill="#000" >cosΔ_fit_650K</text>
<circle cx="420.3" cy="350.5" r="0.7" fill="#222"/>
</svg>
</body></html>
